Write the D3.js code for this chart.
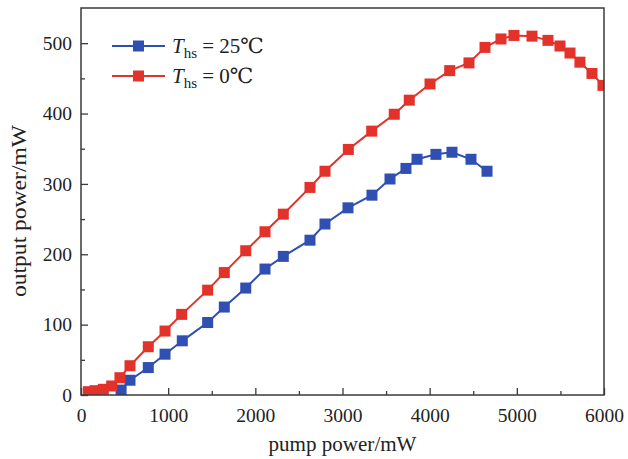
<!DOCTYPE html>
<html>
<head>
<meta charset="utf-8">
<script src="https://cdn.jsdelivr.net/npm/d3@7/dist/d3.min.js"></script>
<style>
  html, body { margin: 0; padding: 0; background: #fff; }
  svg { display: block; font-family: "Liberation Serif", "DejaVu Serif", serif; }
</style>
</head>
<body>
<svg id="chart" width="628" height="459"></svg>
<script>
// Output power vs pump power at two heat-sink temperatures
const pump25 = [460, 562, 772, 964, 1162, 1453, 1644, 1890, 2111, 2321, 2627, 2799, 3063, 3338, 3545, 3728, 3855, 4072, 4256, 4474, 4658];
const out25  = [7, 21, 39, 58, 77, 103, 125, 152, 179, 197, 220, 243, 266, 284, 307, 322, 335, 342, 345, 335, 318];

const pump0 = [84, 161, 256, 352, 447, 562, 772, 964, 1155, 1453, 1644, 1890, 2111, 2321, 2627, 2799, 3067, 3335, 3594, 3766, 4004, 4230, 4451, 4635, 4818, 4967, 5174, 5357, 5495, 5610, 5724, 5862, 5988];
const out0  = [4.7, 6.1, 8.1, 12.8, 24.6, 41.6, 68.6, 90.9, 114.6, 149, 174, 205, 232, 257, 295, 318, 349, 375, 399, 419, 442, 461, 472, 494, 506, 511, 510, 504, 496, 486, 473, 457, 440];

const xTicks = [0, 1000, 2000, 3000, 4000, 5000, 6000];
const yTicks = [0, 100, 200, 300, 400, 500];

const series = [
  { temp: "25℃", color: "#2f4fb3", x: pump25, y: out25 },
  { temp: "0℃",  color: "#e3322a", x: pump0,  y: out0 }
];

const svg = d3.select("#chart");
const m = { left: 81, right: 604, top: 8, bottom: 395 };

const x = d3.scaleLinear().domain([0, 6000]).range([m.left, m.right]);
const y = d3.scaleLinear().domain([0, 550]).range([m.bottom, m.top]);

const axisColor = "#3a3a3a";
const textColor = "#222";

svg.append("defs").append("clipPath").attr("id", "plotClip")
  .append("rect")
  .attr("x", m.left).attr("y", m.top)
  .attr("width", m.right - m.left).attr("height", m.bottom - m.top);

// Bottom axis: inward ticks, minor every 500
const xAxis = d3.axisBottom(x).tickValues(xTicks).tickSize(-7).tickPadding(13).tickFormat(d3.format("d"));
const gx = svg.append("g").attr("transform", `translate(0,${m.bottom})`).call(xAxis);
gx.select(".domain").remove();
gx.selectAll(".tick line").attr("stroke", axisColor).attr("stroke-width", 1.3);
gx.selectAll(".tick text").attr("font-size", 19.5).attr("fill", textColor).attr("font-family", "Liberation Serif");

const xMinor = d3.axisBottom(x).tickValues(d3.range(500, 6000, 1000)).tickSize(-4).tickFormat("");
const gxm = svg.append("g").attr("transform", `translate(0,${m.bottom})`).call(xMinor);
gxm.select(".domain").remove();
gxm.selectAll(".tick line").attr("stroke", axisColor).attr("stroke-width", 1.3);

// Left axis
const yAxis = d3.axisLeft(y).tickValues(yTicks).tickSize(-7).tickPadding(9).tickFormat(d3.format("d"));
const gy = svg.append("g").attr("transform", `translate(${m.left},0)`).call(yAxis);
gy.select(".domain").remove();
gy.selectAll(".tick line").attr("stroke", axisColor).attr("stroke-width", 1.3);
gy.selectAll(".tick text").attr("font-size", 19.5).attr("fill", textColor).attr("font-family", "Liberation Serif");

const yMinor = d3.axisLeft(y).tickValues(d3.range(50, 550, 100)).tickSize(-4).tickFormat("");
const gym = svg.append("g").attr("transform", `translate(${m.left},0)`).call(yMinor);
gym.select(".domain").remove();
gym.selectAll(".tick line").attr("stroke", axisColor).attr("stroke-width", 1.3);

// Data
const line = d3.line().x(d => x(d[0])).y(d => y(d[1]));
const plot = svg.append("g").attr("clip-path", "url(#plotClip)");
const ms = 11;

series.forEach(s => {
  const pts = s.x.map((v, i) => [v, s.y[i]]);
  plot.append("path").datum(pts)
    .attr("d", line).attr("fill", "none")
    .attr("stroke", s.color).attr("stroke-width", 2);
  plot.selectAll(null).data(pts).enter().append("rect")
    .attr("x", d => x(d[0]) - ms / 2).attr("y", d => y(d[1]) - ms / 2)
    .attr("width", ms).attr("height", ms)
    .attr("fill", s.color);
});

// Frame
svg.append("rect")
  .attr("x", m.left).attr("y", m.top)
  .attr("width", m.right - m.left).attr("height", m.bottom - m.top)
  .attr("fill", "none").attr("stroke", axisColor).attr("stroke-width", 1.5);

// Legend
const leg = svg.append("g");
series.forEach((s, i) => {
  const ly = 46 + i * 30;
  leg.append("line").attr("x1", 112).attr("x2", 165).attr("y1", ly).attr("y2", ly)
    .attr("stroke", s.color).attr("stroke-width", 2);
  leg.append("rect").attr("x", 138.5 - ms / 2).attr("y", ly - ms / 2)
    .attr("width", ms).attr("height", ms).attr("fill", s.color);
  const t = leg.append("text").attr("x", 172).attr("y", ly + 7)
    .attr("font-size", 21).attr("fill", textColor);
  t.append("tspan").attr("font-style", "italic").text("T");
  t.append("tspan").attr("font-size", 15).attr("dy", 5).text("hs");
  t.append("tspan").attr("dy", -5).text(" = " + s.temp);
});

// Axis titles
svg.append("text").attr("x", (m.left + m.right) / 2).attr("y", 451)
  .attr("text-anchor", "middle").attr("font-size", 20).attr("fill", textColor)
  .attr("textLength", 148).attr("lengthAdjust", "spacingAndGlyphs")
  .text("pump power/mW");
svg.append("text").attr("transform", `translate(26,${211}) rotate(-90)`)
  .attr("text-anchor", "middle").attr("font-size", 20).attr("fill", textColor)
  .attr("textLength", 172).attr("lengthAdjust", "spacingAndGlyphs")
  .text("output power/mW");
</script>
</body>
</html>
